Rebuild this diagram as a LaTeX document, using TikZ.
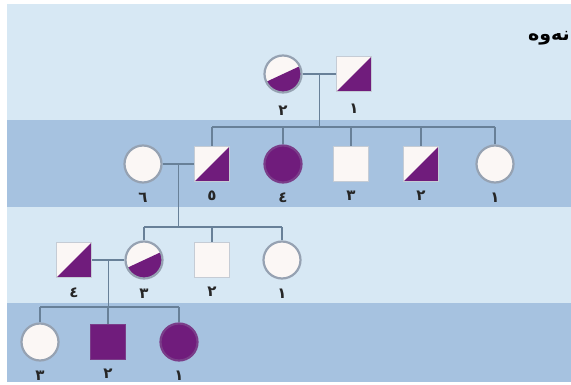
\documentclass[tikz,border=0pt]{standalone}
\usepackage{fontspec}
\newfontfamily\arabicfont[Script=Arabic]{DejaVu Sans}
\TeXXeTstate=1
\definecolor{bandlight}{RGB}{215,232,244}
\definecolor{banddark}{RGB}{166,194,224}
\definecolor{affected}{RGB}{112,28,124}
\definecolor{rim}{RGB}{150,162,178}
\definecolor{kin}{RGB}{104,128,152}
\definecolor{blank}{RGB}{251,247,245}
\begin{document}
\begin{tikzpicture}[x = 1pt,y = 1pt,
        person/.style = {draw = rim,fill = blank,line width = 1.6pt,inner sep = 0pt},
        male/.style = {person,rectangle,draw = rim!55!white,line width = 1.3pt,minimum size = 35pt},
        female/.style = {person,circle,line width = 2.2pt,minimum size = 37pt},
        sick/.style = {fill = affected,draw = affected!75!rim},
        halfsq/.style = {path picture = {\fill[affected] (path picture bounding box.south west)
            -- (path picture bounding box.south east) -- (path picture bounding box.north east) -- cycle;}},
        halfci/.style = {path picture = {\fill[affected] (path picture bounding box.center) ++(205:25pt)
            -- ++(25:50pt) -- ++(-65:25pt) -- ++(205:50pt) -- cycle;}},
        kinline/.style = {draw = kin,line width = 1.4pt},
        every label/.style = {inner sep = 0pt,text = black!85,yshift = -9pt,
            font = \arabicfont\bfseries\fontsize{15}{15}\selectfont}]
    \useasboundingbox (0,0) rectangle (571,-385);
    % bands
    \fill[white] (0,0) rectangle (571,-385);
    \fill[bandlight] (7,-4) rectangle (571,-382);
    \fill[banddark] (7,-120) rectangle (571,-207);
    \fill[banddark] (7,-303) rectangle (571,-382);
    \node[anchor = east,inner sep = 0pt,font = \arabicfont\bfseries\fontsize{19}{19}\selectfont] (gen) at (570,-38) {\beginR نەوە\endR};
    % generation I
    \node[female,halfci,label = {[yshift = -3pt]below:{٢}}] (I2) at (283,-74) {};
    \node[male,halfsq,label = {[yshift = -3pt]below:{١}}] (I1) at (354,-74) {};
    % generation II
    \node[female,label = below:{٦}] (II6) at (143,-164) {};
    \node[male,halfsq,label = below:{٥}] (II5) at (212,-164) {};
    \node[female,sick,label = below:{٤}] (II4) at (283,-164) {};
    \node[male,label = below:{٣}] (II3) at (351,-164) {};
    \node[male,halfsq,label = below:{٢}] (II2) at (421,-164) {};
    \node[female,label = below:{١}] (II1) at (495,-164) {};
    % generation III
    \node[male,halfsq,label = below:{٤}] (III4) at (74,-260) {};
    \node[female,halfci,label = below:{٣}] (III3) at (144,-260) {};
    \node[male,label = below:{٢}] (III2) at (212,-260) {};
    \node[female,label = below:{١}] (III1) at (282,-260) {};
    % generation IV
    \node[female,label = below:{٣}] (IV3) at (40,-342) {};
    \node[male,sick,label = below:{٢}] (IV2) at (108,-342) {};
    \node[female,sick,label = below:{١}] (IV1) at (179,-342) {};
    % lines
    \coordinate (sibII) at (0,-127);
    \coordinate (sibIII) at (0,-227);
    \coordinate (sibIV) at (0,-307);
    \draw[kinline] (I2) -- coordinate[pos = .5] (mI) (I1);
    \draw[kinline] (mI) -- (mI |- sibII);
    \draw[kinline] (II5 |- sibII) -- (II1 |- sibII);
    \foreach \kid in {II5,II4,II3,II2,II1}
        \draw[kinline] (\kid |- sibII) -- (\kid.north);
    \draw[kinline] (II6) -- coordinate[pos = .5] (mII) (II5);
    \draw[kinline] (mII) -- (mII |- sibIII);
    \draw[kinline] (III3 |- sibIII) -- (III1 |- sibIII);
    \foreach \kid in {III3,III2,III1}
        \draw[kinline] (\kid |- sibIII) -- (\kid.north);
    \draw[kinline] (III4) -- coordinate[pos = .5] (mIII) (III3);
    \draw[kinline] (mIII) -- (mIII |- sibIV);
    \draw[kinline] (IV3 |- sibIV) -- (IV1 |- sibIV);
    \foreach \kid in {IV3,IV2,IV1}
        \draw[kinline] (\kid |- sibIV) -- (\kid.north);
\end{tikzpicture}
\end{document}
